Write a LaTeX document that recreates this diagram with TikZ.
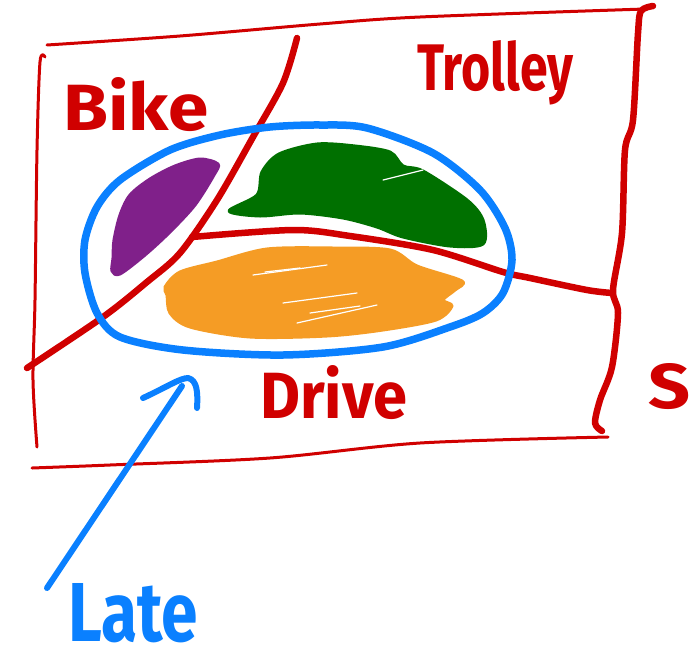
\documentclass[tikz,border=0pt]{standalone}
\usepackage{fontspec}
\usepackage{graphicx}
\setmainfont{Fira Sans}
\definecolor{inkred}{HTML}{D00000}
\definecolor{inkblue}{HTML}{0A80FF}
\definecolor{inkpurple}{HTML}{80208A}
\definecolor{inkgreen}{HTML}{007000}
\definecolor{inkorange}{HTML}{F59C25}
\tikzset{
  thinred/.style={draw=inkred, line width=3pt, line cap=round, line join=round},
  thickred/.style={draw=inkred, line width=6.5pt, line cap=round, line join=round},
  bluepen/.style={draw=inkblue, line width=7.5pt, line cap=round, line join=round},
  label/.style={anchor=base west, inner sep=0pt, font=\bfseries},
  blob/.style={line width=3pt, line join=round},
  streak/.style={draw=white, line width=1.2pt, line cap=round}
}
\newcommand{\fitlabel}[3]{\resizebox{#1}{#2}{#3}}
\begin{document}
\begin{tikzpicture}[x=1pt,y=-1pt]
\useasboundingbox (0,0) rectangle (700,651);
% outer frame, thin lines
\draw[thinred] plot[smooth] coordinates {(47,45) (180,36) (320,24) (420,17) (645,9)};
\draw[thinred] plot[smooth] coordinates {(45,57) (40,62) (37,150) (35,300) (33,380) (37,447)};
\draw[thinred] plot[smooth] coordinates {(32,468) (110,465) (270,458) (420,443) (608,437)};
% right thick edge
\draw[thickred] plot[smooth] coordinates {(653,6) (641,11) (638,33) (633,120) (625,150) (622,233) (613,290) (618,313) (612,367) (600,400) (595,423) (602,431)};
% region borders
\draw[thickred] plot[smooth] coordinates {(297,38) (283,83) (253,137) (217,200) (180,253) (147,282) (103,317) (27,368)};
\draw[thickred] plot[smooth] coordinates {(192,237) (293,230) (350,236) (433,250) (503,272) (530,278) (587,290) (612,293)};
% blobs
\fill[inkpurple, draw=inkpurple, blob] plot[smooth cycle] coordinates {(218,164) (200,159) (175,166) (150,179) (130,195) (120,215) (114,240) (113,258) (112,271) (120,274) (145,255) (170,232) (195,205) (214,175)};
\fill[inkgreen, draw=inkgreen, blob] plot[smooth cycle] coordinates {(229,211) (257,195) (262,172) (279,154) (317,144) (355,146) (390,152) (403,166) (423,171) (467,200) (483,220) (483,244) (450,246) (403,237) (377,227) (343,218) (300,213) (260,216)};
\fill[inkorange, draw=inkorange, blob] plot[smooth cycle] coordinates {(165,287) (180,272) (217,262) (267,249) (333,248) (390,250) (417,266) (462,281) (455,290) (443,300) (452,306) (436,320) (383,330) (327,336) (250,337) (190,327) (170,313) (167,295)};
\draw[streak] (253,275) -- (327,265);
\draw[streak] (265,272) -- (300,268);
\draw[streak] (283,303) -- (357,293);
\draw[streak] (297,323) -- (377,305);
\draw[streak] (310,313) -- (360,306);
\draw[streak] (383,180) -- (423,170);
% blue set (Late)
\draw[bluepen] plot[smooth cycle] coordinates {(367,128) (433,153) (480,190) (505,228) (512,260) (503,293) (483,313) (450,327) (383,347) (283,355) (183,350) (120,337) (97,313) (85,273) (85,240) (97,207) (120,180) (170,150) (220,135) (270,127) (320,125)};
% labels
\node[label, text=inkred] (bike) at (63,130) {\fitlabel{145pt}{53pt}{Bike}};
\node[label, text=inkred] (trolley) at (417,90) {\fitlabel{156pt}{50pt}{Trolley}};
\node[label, text=inkred] (drive) at (260,418) {\fitlabel{147pt}{53pt}{Drive}};
\node[label, text=inkred] (s) at (648,408) {\fitlabel{42pt}{45pt}{S}};
\node[label, text=inkblue] (late) at (68,641) {\fitlabel{130pt}{58pt}{Late}};
% arrow from Late to the set
\coordinate (tail) at (47,588);
\coordinate (tip) at (182,386);
\draw[bluepen, line width=6pt] (tail) -- (tip);
\draw[bluepen, line width=6pt] (143,398) .. controls (165,388) and (180,378) .. (188,378) .. controls (197,380) and (198,392) .. (197,408);
\end{tikzpicture}
\end{document}
